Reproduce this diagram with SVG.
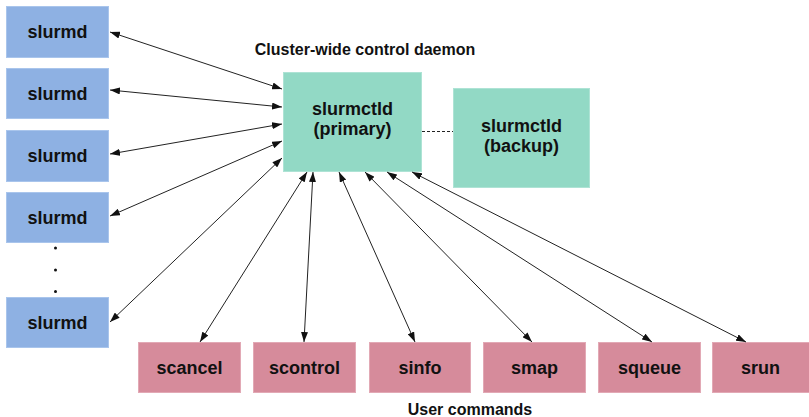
<svg xmlns="http://www.w3.org/2000/svg" width="809" height="417" viewBox="0 0 809 417">
  <defs>
    <style>
      .node text { font-family: "Liberation Sans", Arial, sans-serif; font-weight: bold; font-size: 18px; fill: #111; text-anchor: middle; }
      .label { font-family: "Liberation Sans", Arial, sans-serif; font-weight: bold; font-size: 16px; fill: #111; text-anchor: middle; }
      .slurmd rect { fill: #8eb1e3; stroke: #a9c5ec; stroke-width: 1; }
      .ctld rect { fill: #92d9c5; stroke: #aee3d5; stroke-width: 1; }
      .cmd rect { fill: #d68b9b; stroke: #e2a9b5; stroke-width: 1; }
      .link { stroke: #222; stroke-width: 1; fill: none; marker-start: url(#head); marker-end: url(#head); }
      .dash { stroke: #222; stroke-width: 1; stroke-dasharray: 3 2; fill: none; }
      .dot { fill: #111; }
    </style>
    <marker id="head" viewBox="0 0 10 7" refX="10" refY="3.5" markerWidth="10" markerHeight="7" markerUnits="userSpaceOnUse" orient="auto-start-reverse">
      <path d="M0,0 L10,3.5 L0,7 z" fill="#111"/>
    </marker>
  </defs>

  <rect width="809" height="417" fill="#fff"/>

  <!-- compute daemons -->
  <g id="slurmd1" class="node slurmd"><rect x="6.5" y="6.5" width="102" height="51"/><text x="57.5" y="38">slurmd</text></g>
  <g id="slurmd2" class="node slurmd"><rect x="6.5" y="68.5" width="102" height="50"/><text x="57.5" y="99.5">slurmd</text></g>
  <g id="slurmd3" class="node slurmd"><rect x="6.5" y="130.5" width="102" height="51"/><text x="57.5" y="162">slurmd</text></g>
  <g id="slurmd4" class="node slurmd"><rect x="6.5" y="192.5" width="102" height="50"/><text x="57.5" y="223.5">slurmd</text></g>
  <g id="slurmd5" class="node slurmd"><rect x="6.5" y="297.5" width="102" height="50"/><text x="57.5" y="328.5">slurmd</text></g>

  <!-- ellipsis between daemons -->
  <g id="ellipsis">
    <circle class="dot" cx="55.5" cy="248" r="1.5"/>
    <circle class="dot" cx="55.5" cy="270" r="1.5"/>
    <circle class="dot" cx="55.5" cy="291.5" r="1.5"/>
  </g>

  <!-- controller daemons -->
  <text class="label" x="365" y="55">Cluster-wide control daemon</text>
  <g id="ctld-primary" class="node ctld"><rect x="283.5" y="72.5" width="138" height="99"/><text x="352.5" y="115">slurmctld</text><text x="352.5" y="135">(primary)</text></g>
  <g id="ctld-backup" class="node ctld"><rect x="453.5" y="88.5" width="136" height="99"/><text x="521.5" y="132">slurmctld</text><text x="521.5" y="152">(backup)</text></g>

  <!-- user commands -->
  <g id="cmd-scancel" class="node cmd"><rect x="138.5" y="342.5" width="102" height="50"/><text x="189.5" y="374">scancel</text></g>
  <g id="cmd-scontrol" class="node cmd"><rect x="253.5" y="342.5" width="102" height="50"/><text x="304.5" y="374">scontrol</text></g>
  <g id="cmd-sinfo" class="node cmd"><rect x="369.5" y="342.5" width="101" height="50"/><text x="420" y="374">sinfo</text></g>
  <g id="cmd-smap" class="node cmd"><rect x="483.5" y="342.5" width="102" height="50"/><text x="534.5" y="374">smap</text></g>
  <g id="cmd-squeue" class="node cmd"><rect x="598.5" y="342.5" width="102" height="50"/><text x="649.5" y="374">squeue</text></g>
  <g id="cmd-srun" class="node cmd"><rect x="712.5" y="342.5" width="98" height="50"/><text x="760.5" y="374">srun</text></g>
  <text class="label" x="470" y="415">User commands</text>

  <!-- connectors -->
  <g id="connectors">
    <line class="link" x1="110" y1="32" x2="282" y2="89"/>
    <line class="link" x1="110" y1="90" x2="282" y2="107"/>
    <line class="link" x1="110" y1="154" x2="282" y2="124"/>
    <line class="link" x1="110" y1="216" x2="282" y2="141"/>
    <line class="link" x1="110" y1="322" x2="282" y2="158"/>

    <line class="link" x1="200" y1="342" x2="307" y2="172"/>
    <line class="link" x1="304" y1="342" x2="313" y2="172"/>
    <line class="link" x1="415" y1="342" x2="339" y2="172"/>
    <line class="link" x1="532" y1="342" x2="365" y2="172"/>
    <line class="link" x1="652" y1="342" x2="387" y2="172"/>
    <line class="link" x1="746" y1="342" x2="412" y2="172"/>

    <line class="dash" x1="422" y1="131.5" x2="453" y2="131.5"/>
  </g>
</svg>
